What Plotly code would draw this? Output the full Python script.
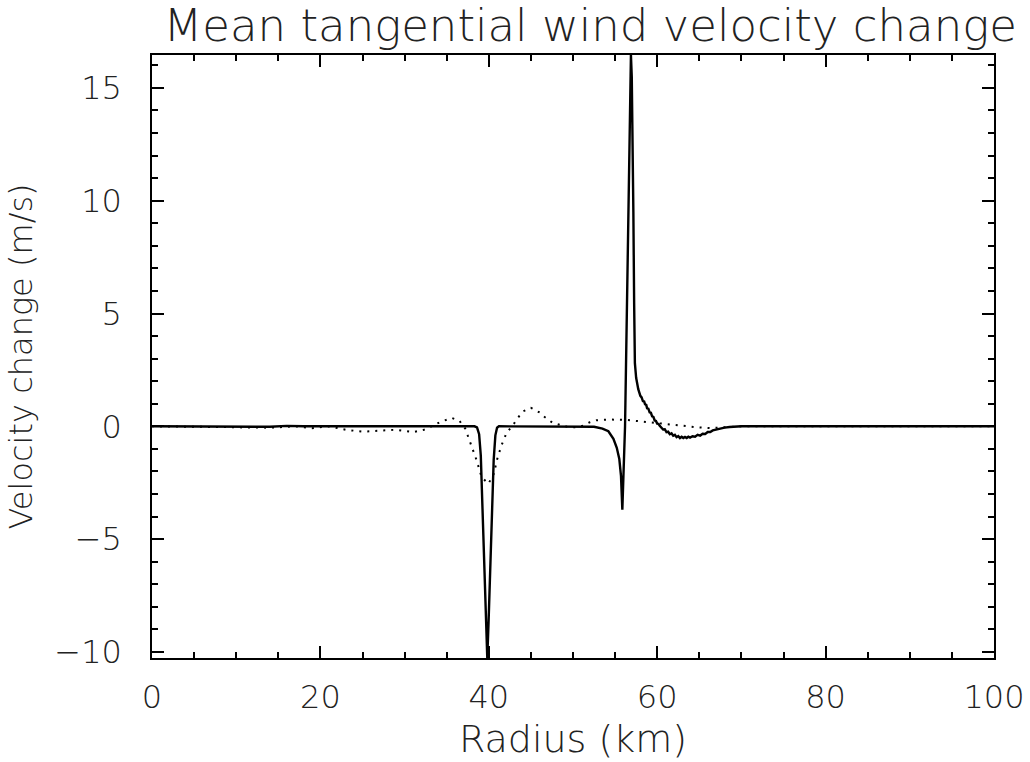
import plotly.graph_objects as go

# ---- data ----
radius_solid = [0, 5, 10, 14, 16, 18, 25, 30, 35, 38.3, 38.6, 38.85, 39.05, 39.25, 39.45,
                39.65, 39.82, 39.98, 40.18, 40.38, 40.58, 40.78, 40.98, 41.2, 45, 50, 52.5,
                53.5, 54.2, 54.8, 55.2, 55.5, 55.7, 55.86, 56.0, 56.18, 56.5, 56.77, 56.88,
                56.98, 57.08, 57.17, 57.26, 57.35, 57.5, 57.75, 58.0, 58.15, 58.3, 58.45,
                58.55, 58.7, 58.8, 58.95, 59.1, 59.25, 59.4, 59.55, 59.7, 59.85, 60.0, 60.15,
                60.3, 60.5, 60.7, 60.9, 61.1, 61.3, 61.5, 61.7, 61.9, 62.1, 62.3, 62.5, 62.7,
                62.9, 63.1, 63.3, 63.5, 63.7, 63.9, 64.2, 64.5, 64.8, 65.1, 65.4, 65.7, 66.0,
                66.3, 66.6, 67.0, 67.5, 68.0, 68.6, 69.5, 70, 80, 90, 100]
velocity_solid = [0, 0, 0, -0.02, 0.02, 0, 0, 0, 0, 0, -0.05, -0.35, -1.3, -3.4, -5.8,
                  -8.3, -10.27, -8.6, -6.0, -3.6, -1.5, -0.4, -0.06, 0, 0, 0, -0.02,
                  -0.1, -0.22, -0.55, -0.95, -1.45, -2.2, -3.7, -2.0, 0.0, 7.5, 15.0, 16.46,
                  15.5, 13.0, 9.5, 5.5, 2.8, 2.15, 1.65, 1.35, 1.28, 1.12, 1.1,
                  0.98, 0.95, 0.8, 0.78, 0.62, 0.6, 0.44, 0.42, 0.26, 0.24, 0.12, 0.11,
                  0.02, -0.04, -0.14, -0.13, -0.26, -0.24, -0.35, -0.31, -0.42, -0.38, -0.48, -0.43, -0.52,
                  -0.46, -0.52, -0.47, -0.52, -0.46, -0.5, -0.44, -0.46, -0.38, -0.41, -0.33, -0.34, -0.25,
                  -0.25, -0.18, -0.14, -0.1, -0.06, -0.03, 0, 0, 0, 0, 0]

radius_dotted = [0, 5, 8, 11, 14, 17, 19, 21, 23, 25, 27, 29, 31, 32.3, 33.2, 34.3, 35.6,
                 36.5, 37.2, 37.8, 38.5, 39.15, 39.95, 40.6, 41.0, 41.5, 42.1, 42.9, 43.5,
                 44.1, 45.0, 46.1, 46.5, 47.6, 48.7, 49.6, 50.5, 51.2, 52.0, 52.8, 54.4,
                 56.4, 58.0, 59.9, 61.5, 63.1, 64.7, 66.3, 67.5, 68.6, 70, 80, 90, 100]
velocity_dotted = [0, 0, -0.03, -0.05, -0.06, 0.0, -0.08, 0.0, -0.15, -0.24, -0.2, -0.15,
                   -0.26, -0.15, 0.0, 0.2, 0.37, 0.25, -0.1, -0.7, -1.45, -2.25, -2.55,
                   -2.1, -1.45, -0.85, -0.3, 0.07, 0.4, 0.67, 0.82, 0.6, 0.45, 0.15, 0.03,
                   -0.05, -0.04, 0.03, 0.18, 0.27, 0.3, 0.28, 0.22, 0.15, 0.08, 0.0, -0.04,
                   -0.08, -0.05, -0.02, 0, 0, 0, 0]

x_ticks = [0, 20, 40, 60, 80, 100]
y_ticks = [-10, -5, 0, 5, 10, 15]

FONT = "DejaVu Sans"

fig = go.Figure()
fig.add_trace(go.Scatter(x=radius_solid, y=velocity_solid, mode="lines",
                         line=dict(color="black", width=2.4), showlegend=False))
fig.add_trace(go.Scatter(x=radius_dotted, y=velocity_dotted, mode="lines",
                         line=dict(color="black", width=2, dash="2px,6px"), showlegend=False))

axis_common = dict(
    showline=True, linecolor="black", linewidth=1.5, mirror="allticks",
    ticks="inside", ticklen=12, tickwidth=1.5, tickcolor="black",
    showgrid=False, zeroline=False, automargin=False,
    tickfont=dict(family=FONT, size=32, color="#222", weight=300),
)

fig.update_layout(
    width=1030, height=762,
    margin=dict(l=152, r=36, t=55, b=104, autoexpand=False),
    paper_bgcolor="white", plot_bgcolor="white",
    title=dict(text="Mean tangential wind velocity change",
               font=dict(family=FONT, size=45, color="#222", weight=300),
               x=0.573, xref="container", xanchor="center",
               y=1 - 25 / 762, yref="container", yanchor="middle"),
    xaxis=dict(range=[0, 100], tickvals=x_ticks,
               minor=dict(dtick=5, ticklen=6, tickwidth=1.5, tickcolor="black", ticks="inside"),
               ticklabelstandoff=10,
               title=dict(text="Radius (km)", font=dict(family=FONT, size=38, color="#222", weight=300),
                          standoff=10),
               **axis_common),
    yaxis=dict(range=[-10.27, 16.46], tickvals=y_ticks,
               minor=dict(dtick=1, ticklen=6, tickwidth=1.5, tickcolor="black", ticks="inside"),
               ticklabelstandoff=22,
               title=dict(text="Velocity change (m/s)", font=dict(family=FONT, size=32, color="#222", weight=300),
                          standoff=12),
               **axis_common),
)

fig.write_html("out.html")
